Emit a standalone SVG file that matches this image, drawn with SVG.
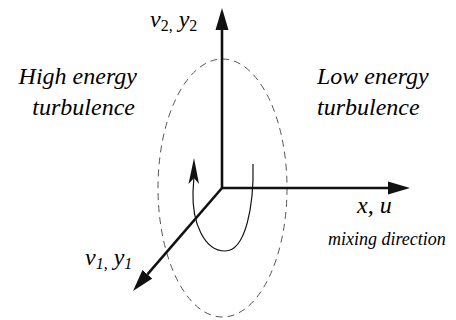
<svg xmlns="http://www.w3.org/2000/svg" width="456" height="320" viewBox="0 0 456 320">
<rect width="456" height="320" fill="#fff"/>
<g id="v2y2"><text x="150" y="27" font-family="Liberation Serif" font-style="italic" font-size="24">v<tspan font-size="16" font-style="normal" dy="4">2,</tspan><tspan dy="-4"> y</tspan><tspan font-size="16" font-style="normal" dy="4">2</tspan></text></g>
<g id="high"><text x="137" y="84" font-family="Liberation Serif" font-style="italic" font-size="24" text-anchor="end">High energy</text><text x="135" y="115" font-family="Liberation Serif" font-style="italic" font-size="24" text-anchor="end">turbulence</text></g>
<g id="low"><text x="317" y="84" font-family="Liberation Serif" font-style="italic" font-size="24">Low energy</text><text x="317" y="115" font-family="Liberation Serif" font-style="italic" font-size="24">turbulence</text></g>
<g id="xu"><text x="357" y="213" font-family="Liberation Serif" font-style="italic" font-size="24">x, u</text></g>
<g id="mixing"><text x="328" y="245" font-family="Liberation Serif" font-style="italic" font-size="18">mixing direction</text></g>
<g id="v1y1"><text x="85" y="265" font-family="Liberation Serif" font-style="italic" font-size="24">v<tspan font-size="16" dy="4">1,</tspan><tspan dy="-4"> y</tspan><tspan font-size="16" dy="4">1</tspan></text></g>
<defs>
<marker id="ah" markerUnits="userSpaceOnUse" markerWidth="23" markerHeight="14" refX="0" refY="6.5" orient="auto" viewBox="0 0 23 13">
<path d="M0,0 L22,6.5 L0,13 z" fill="#111"/>
</marker>
</defs>
<g id="connectors">
<ellipse cx="222.5" cy="188" rx="64.5" ry="129" fill="none" stroke="#555" stroke-width="1" stroke-dasharray="7,5"/>
<g stroke="#111" stroke-width="2.6" fill="none">
<path d="M222,189 V30" marker-end="url(#ah)"/>
<path d="M221,188 H388" marker-end="url(#ah)"/>
<path d="M222,188 L147.4,274.3" marker-end="url(#ah)"/>
</g>
<path d="M253,164 C254,205 246,251 225,251 C204,251 192,222 193,192 L194,176" fill="none" stroke="#111" stroke-width="1.2"/>
<polygon points="194,158 188.5,184 194,178 199,184" fill="#111"/>
</g>
</svg>
